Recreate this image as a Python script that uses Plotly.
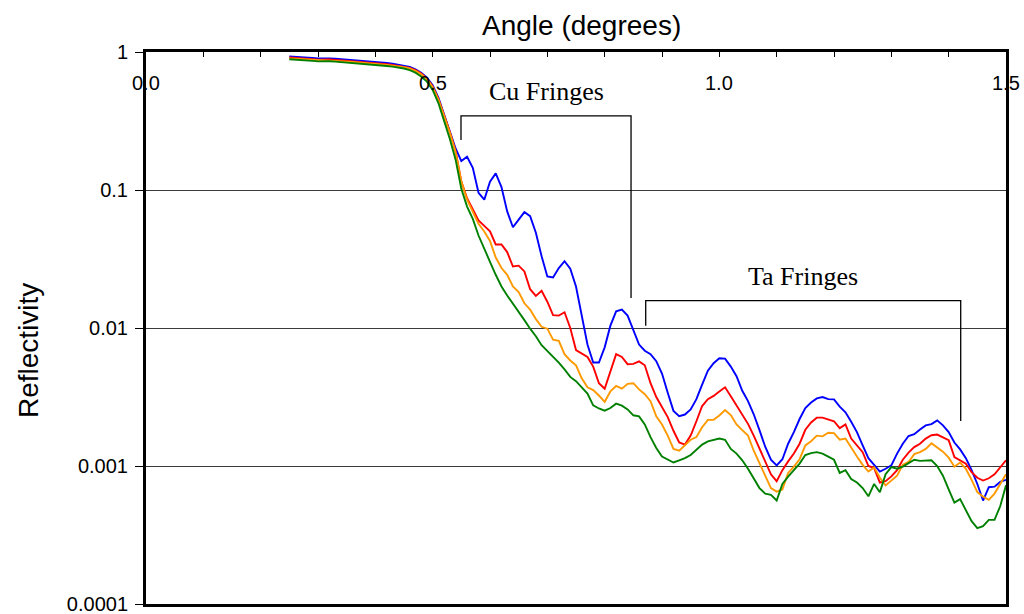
import numpy as np
import plotly.graph_objects as go

# Grazing angle (degrees), sampled every 0.01 deg
angle = np.round(np.arange(0.25, 1.5001, 0.01), 2)

refl_blue = [
    0.929, 0.925, 0.920, 0.912, 0.904, 0.897, 0.902, 0.899, 0.893, 0.887,
    0.881, 0.875, 0.869, 0.863, 0.855, 0.847, 0.839, 0.832, 0.822, 0.811,
    0.798, 0.780, 0.750, 0.708, 0.653, 0.575, 0.468, 0.355, 0.269, 0.200,
    0.162, 0.174, 0.145, 0.0955, 0.0851, 0.115, 0.132, 0.105, 0.0700, 0.0537,
    0.0610, 0.0692, 0.0646, 0.0490, 0.0331, 0.0236, 0.0232, 0.0272, 0.0305, 0.0269,
    0.0200, 0.0126, 0.00759, 0.00562, 0.00562, 0.00724, 0.0104, 0.0132, 0.0136, 0.0123,
    0.00955, 0.00759, 0.00684, 0.00646, 0.00575, 0.00468, 0.00339, 0.00251, 0.00230, 0.00236,
    0.00257, 0.00305, 0.00389, 0.00490, 0.00556, 0.00603, 0.00600, 0.00525, 0.00447, 0.00351,
    0.00295, 0.00237, 0.00182, 0.00138, 0.00111, 0.00101, 0.00112, 0.00145, 0.00176, 0.00219,
    0.00263, 0.00288, 0.00309, 0.00316, 0.00305, 0.00304, 0.00269, 0.00245, 0.00209, 0.00176,
    0.00141, 0.00114, 0.00102, 0.000912, 0.000955, 0.00101, 0.00123, 0.00145, 0.00165, 0.00170,
    0.00184, 0.00197, 0.00201, 0.00214, 0.00197, 0.00176, 0.00148, 0.00132, 0.00114, 0.000933,
    0.000741, 0.000562, 0.000702, 0.000708, 0.000767, 0.000794,
]

refl_red = [
    0.912, 0.908, 0.904, 0.895, 0.887, 0.881, 0.885, 0.883, 0.877, 0.871,
    0.865, 0.859, 0.853, 0.847, 0.839, 0.832, 0.824, 0.817, 0.807, 0.796,
    0.785, 0.767, 0.738, 0.697, 0.643, 0.562, 0.457, 0.347, 0.263, 0.191,
    0.115, 0.0871, 0.0724, 0.0603, 0.0550, 0.0501, 0.0403, 0.0403, 0.0355, 0.0279,
    0.0283, 0.0257, 0.0191, 0.0171, 0.0186, 0.0155, 0.0124, 0.0123, 0.0130, 0.0100,
    0.00692, 0.00649, 0.00617, 0.00525, 0.00398, 0.00363, 0.00479, 0.00646, 0.00617, 0.00547,
    0.00550, 0.00573, 0.00537, 0.00398, 0.00316, 0.00268, 0.00226, 0.00180, 0.00148, 0.00143,
    0.00166, 0.00211, 0.00272, 0.00305, 0.00322, 0.00347, 0.00372, 0.00320, 0.00274, 0.00233,
    0.00202, 0.00166, 0.00135, 0.00110, 0.000871, 0.000776, 0.000933, 0.00108, 0.00123, 0.00145,
    0.00183, 0.00207, 0.00224, 0.00224, 0.00216, 0.00211, 0.00188, 0.00200, 0.00158, 0.00141,
    0.00126, 0.00100, 0.000966, 0.000759, 0.000776, 0.000841, 0.000933, 0.00111, 0.00125, 0.00137,
    0.00145, 0.00158, 0.00167, 0.00169, 0.00162, 0.00154, 0.00116, 0.00110, 0.00104, 0.000902,
    0.000822, 0.000785, 0.000815, 0.000871, 0.000977, 0.00110,
]

refl_orange = [
    0.899, 0.895, 0.891, 0.883, 0.875, 0.869, 0.873, 0.871, 0.865, 0.859,
    0.853, 0.847, 0.841, 0.836, 0.828, 0.820, 0.813, 0.805, 0.796, 0.785,
    0.776, 0.759, 0.729, 0.689, 0.635, 0.556, 0.452, 0.343, 0.260, 0.188,
    0.115, 0.0851, 0.0700, 0.0569, 0.0501, 0.0427, 0.0324, 0.0272, 0.0243, 0.0200,
    0.0182, 0.0151, 0.0136, 0.0116, 0.0102, 0.00989, 0.00822, 0.00807, 0.00646, 0.00582,
    0.00537, 0.00432, 0.00372, 0.00355, 0.00324, 0.00292, 0.00347, 0.00380, 0.00363, 0.00394,
    0.00398, 0.00359, 0.00331, 0.00295, 0.00229, 0.00200, 0.00166, 0.00133, 0.00129, 0.00141,
    0.00155, 0.00162, 0.00191, 0.00216, 0.00216, 0.00232, 0.00254, 0.00234, 0.00200, 0.00182,
    0.00166, 0.00129, 0.00104, 0.000838, 0.000692, 0.000652, 0.000676, 0.000891, 0.000989, 0.00112,
    0.00141, 0.00151, 0.00166, 0.00164, 0.00174, 0.00173, 0.00155, 0.00158, 0.00135, 0.00117,
    0.00102, 0.000912, 0.000977, 0.000822, 0.000724, 0.000785, 0.000851, 0.00102, 0.00107, 0.00122,
    0.00126, 0.00133, 0.00146, 0.00136, 0.00127, 0.00115, 0.000989, 0.00106, 0.000955, 0.000794,
    0.000646, 0.000600, 0.000569, 0.000631, 0.000741, 0.000871,
]

refl_green = [
    0.887, 0.883, 0.877, 0.871, 0.863, 0.855, 0.859, 0.857, 0.851, 0.845,
    0.839, 0.834, 0.828, 0.822, 0.815, 0.807, 0.800, 0.792, 0.783, 0.773,
    0.759, 0.738, 0.708, 0.665, 0.610, 0.531, 0.427, 0.316, 0.234, 0.166,
    0.102, 0.0759, 0.0617, 0.0468, 0.0372, 0.0302, 0.0243, 0.0200, 0.0172, 0.0151,
    0.0130, 0.0114, 0.00989, 0.00871, 0.00750, 0.00684, 0.00617, 0.00562, 0.00501, 0.00442,
    0.00412, 0.00372, 0.00335, 0.00275, 0.00261, 0.00252, 0.00263, 0.00283, 0.00274, 0.00257,
    0.00233, 0.00229, 0.00200, 0.00162, 0.00135, 0.00117, 0.00112, 0.00106, 0.00110, 0.00114,
    0.00120, 0.00132, 0.00143, 0.00151, 0.00155, 0.00158, 0.00155, 0.00133, 0.00123, 0.00110,
    0.000955, 0.000813, 0.000692, 0.000631, 0.000617, 0.000562, 0.000741, 0.000838, 0.000933, 0.00104,
    0.00120, 0.00124, 0.00126, 0.00123, 0.00117, 0.00111, 0.000891, 0.000933, 0.000804, 0.000759,
    0.000692, 0.000603, 0.000741, 0.000646, 0.000871, 0.000982, 0.000955, 0.000989, 0.00105, 0.00111,
    0.00109, 0.00110, 0.00110, 0.00100, 0.000851, 0.000676, 0.000543, 0.000575, 0.000479, 0.000398,
    0.000355, 0.000367, 0.000407, 0.000407, 0.000513, 0.000724,
]

series = [
    ("blue", refl_blue, "#0000ff"),
    ("red", refl_red, "#ff0000"),
    ("orange", refl_orange, "#ff9900"),
    ("green", refl_green, "#008000"),
]

x_tick_vals = [round(0.1 * i, 1) for i in range(16)]
x_label_vals = [0.0, 0.5, 1.0, 1.5]
x_label_text = ["0.0", "0.5", "1.0", "1.5"]
y_tick_vals = [1, 0.1, 0.01, 0.001, 0.0001]
y_tick_text = ["1", "0.1", "0.01", "0.001", "0.0001"]

# Fringe brackets: (left angle, right angle, bar level, left foot, right foot)
cu_bracket = (0.5494, 0.846, 0.344, 0.230, 0.0165)
ta_bracket = (0.8716, 1.421, 0.01578, 0.01039, 0.00212)

fig = go.Figure()
for name, vals, color in series:
    fig.add_trace(go.Scatter(
        x=angle, y=vals, mode="lines", name=name,
        line=dict(color=color, width=1.9),
    ))

sans = "Liberation Sans, Arial, Helvetica, sans-serif"
serif = "Liberation Serif, Times New Roman, serif"

# Fringe labels and brackets
for (xl, xr, top, footl, footr), label in ((cu_bracket, "Cu Fringes"), (ta_bracket, "Ta Fringes")):
    fig.add_trace(go.Scatter(
        x=[xl, xl, xr, xr], y=[footl, top, top, footr],
        mode="lines", line=dict(color="black", width=1.3),
        hoverinfo="skip", name=label,
    ))
    fig.add_annotation(
        text=label, x=(xl + xr) / 2, y=np.log10(top), xref="x", yref="y",
        yshift=24, showarrow=False, xanchor="center", yanchor="middle",
        font=dict(size=26, family=serif, color="black"),
    )

fig.update_layout(
    width=1024, height=614,
    margin=dict(l=146, r=18, t=52, b=10),
    paper_bgcolor="white", plot_bgcolor="white",
    showlegend=False,
    font=dict(family=sans, color="black"),
)

fig.update_xaxes(
    side="top", range=[0, 1.5], automargin=False,
    tickmode="array", tickvals=x_tick_vals, showticklabels=False,
    ticks="inside", ticklen=5, tickwidth=1, tickcolor="black",
    showgrid=False, zeroline=False,
    showline=True, linewidth=3, linecolor="black", mirror=True,
)

fig.update_yaxes(
    type="log", range=[-4, 0], automargin=False,
    tickmode="array", tickvals=y_tick_vals, ticktext=y_tick_text,
    ticks="outside", ticklen=8, tickwidth=1, tickcolor="black",
    ticklabelstandoff=3, ticklabeloverflow="allow",
    tickfont=dict(size=20, family=sans, color="black"),
    showgrid=True, gridcolor="#3a3a3a", gridwidth=1,
    zeroline=False,
    showline=True, linewidth=3, linecolor="black", mirror=True,
)

# Angle labels sit just inside the top edge of the frame
for v, t in zip(x_label_vals, x_label_text):
    fig.add_annotation(
        text=t, x=v, xref="x", y=1.0, yref="paper", yshift=-31,
        showarrow=False, xanchor="center", yanchor="middle",
        font=dict(size=20, family=sans, color="black"),
    )

# Axis titles
fig.add_annotation(
    text="Angle (degrees)", xref="paper", yref="paper",
    x=0.506, y=1.0, yshift=27, showarrow=False,
    xanchor="center", yanchor="middle",
    font=dict(size=28, family=sans, color="black"),
)
fig.add_annotation(
    text="Reflectivity", xref="paper", yref="paper",
    x=0, xshift=-118, y=0.5, yshift=-23, showarrow=False, textangle=-90,
    xanchor="center", yanchor="middle",
    font=dict(size=28, family=sans, color="black"),
)

fig.write_html("out.html")
